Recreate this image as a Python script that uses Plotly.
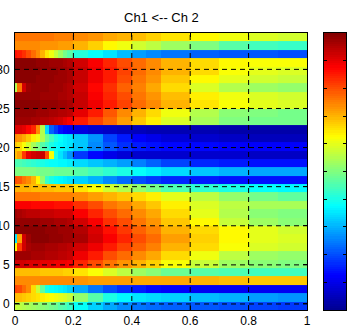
import numpy as np
import plotly.graph_objects as go

# ---- data -------------------------------------------------------------
title_text = "Ch1 <-- Ch 2"

# column boundaries along the normalised axis (first column is a half bin)
x_edges = [0, 0.0078, 0.0234, 0.039, 0.0547, 0.0703, 0.0859, 0.1016, 0.1172,
           0.1328, 0.1484, 0.1641, 0.1797, 0.2, 0.25, 0.3, 0.35, 0.4, 0.45,
           0.5, 0.6, 0.7, 0.8, 0.9, 1.0]

# row centres: first row centre and row spacing (33 rows)
row_y0 = -0.233
row_dy = 1.0733

# values, listed from the top row to the bottom row
rows_top_to_bottom = [
    [0.76,0.76,0.76,0.76,0.76,0.76,0.76,0.76,0.76,0.75,0.75,0.75,0.75,0.74,0.73,0.71,0.70,0.69,0.67,0.65,0.63,0.61,0.59,0.58],
    [0.74,0.74,0.74,0.74,0.74,0.74,0.73,0.73,0.73,0.73,0.72,0.72,0.72,0.70,0.67,0.63,0.61,0.58,0.56,0.53,0.50,0.46,0.44,0.43],
    [0.86,0.85,0.83,0.80,0.77,0.74,0.70,0.65,0.61,0.57,0.53,0.49,0.46,0.41,0.38,0.35,0.31,0.28,0.26,0.24,0.22,0.21,0.21,0.20],
    [0.99,0.99,0.99,0.99,0.99,0.98,0.98,0.98,0.97,0.97,0.97,0.96,0.95,0.92,0.88,0.84,0.80,0.77,0.74,0.70,0.66,0.63,0.62,0.62],
    [0.99,0.99,0.99,0.99,0.99,0.99,0.98,0.98,0.98,0.98,0.97,0.97,0.96,0.93,0.89,0.85,0.81,0.77,0.74,0.70,0.66,0.62,0.60,0.59],
    [0.99,0.99,0.99,0.99,0.99,0.98,0.98,0.98,0.98,0.97,0.97,0.97,0.96,0.93,0.89,0.85,0.80,0.76,0.73,0.68,0.63,0.60,0.58,0.57],
    [0.55,0.76,0.92,0.97,0.98,0.98,0.98,0.98,0.97,0.97,0.97,0.96,0.95,0.92,0.87,0.83,0.78,0.75,0.71,0.66,0.59,0.55,0.53,0.52],
    [0.98,0.98,0.98,0.98,0.98,0.98,0.97,0.97,0.97,0.97,0.96,0.96,0.95,0.93,0.88,0.84,0.80,0.76,0.73,0.69,0.64,0.61,0.59,0.58],
    [0.99,0.99,0.99,0.99,0.99,0.99,0.98,0.98,0.98,0.98,0.97,0.97,0.96,0.93,0.89,0.85,0.81,0.77,0.74,0.70,0.65,0.62,0.60,0.59],
    [0.98,0.98,0.98,0.98,0.98,0.97,0.97,0.97,0.96,0.96,0.95,0.95,0.94,0.90,0.85,0.79,0.74,0.70,0.66,0.61,0.55,0.51,0.50,0.49],
    [0.97,0.97,0.97,0.97,0.96,0.96,0.95,0.95,0.94,0.93,0.92,0.90,0.88,0.85,0.81,0.77,0.72,0.68,0.64,0.59,0.54,0.50,0.49,0.49],
    [0.91,0.91,0.90,0.87,0.84,0.74,0.55,0.34,0.22,0.18,0.14,0.12,0.11,0.09,0.07,0.06,0.05,0.05,0.04,0.04,0.04,0.03,0.03,0.03],
    [0.74,0.73,0.71,0.68,0.64,0.61,0.55,0.48,0.44,0.40,0.38,0.36,0.35,0.32,0.27,0.19,0.15,0.12,0.10,0.08,0.07,0.06,0.05,0.05],
    [0.68,0.66,0.62,0.58,0.54,0.50,0.46,0.43,0.40,0.38,0.37,0.36,0.35,0.32,0.26,0.21,0.17,0.15,0.14,0.13,0.13,0.12,0.12,0.12],
    [0.69,0.72,0.82,0.90,0.92,0.93,0.93,0.80,0.62,0.40,0.35,0.31,0.27,0.18,0.13,0.10,0.08,0.07,0.07,0.07,0.07,0.07,0.06,0.06],
    [0.45,0.45,0.44,0.43,0.42,0.41,0.40,0.39,0.38,0.38,0.37,0.37,0.36,0.34,0.32,0.30,0.28,0.25,0.22,0.19,0.16,0.15,0.14,0.14],
    [0.50,0.50,0.50,0.50,0.50,0.49,0.49,0.49,0.49,0.48,0.48,0.48,0.48,0.46,0.44,0.42,0.40,0.38,0.36,0.34,0.32,0.30,0.29,0.29],
    [0.80,0.79,0.76,0.74,0.70,0.63,0.52,0.43,0.40,0.38,0.37,0.36,0.35,0.33,0.30,0.26,0.23,0.20,0.18,0.16,0.15,0.14,0.14,0.14],
    [0.70,0.70,0.70,0.70,0.69,0.69,0.69,0.69,0.69,0.68,0.68,0.68,0.68,0.65,0.62,0.58,0.55,0.52,0.49,0.45,0.42,0.40,0.38,0.37],
    [0.76,0.76,0.76,0.76,0.76,0.76,0.75,0.75,0.75,0.75,0.75,0.75,0.75,0.74,0.72,0.70,0.68,0.66,0.64,0.60,0.56,0.52,0.49,0.47],
    [0.88,0.88,0.88,0.88,0.87,0.87,0.87,0.87,0.87,0.86,0.86,0.86,0.86,0.83,0.80,0.76,0.74,0.71,0.68,0.64,0.59,0.56,0.54,0.54],
    [0.97,0.96,0.95,0.94,0.94,0.94,0.93,0.93,0.93,0.92,0.92,0.92,0.92,0.88,0.84,0.80,0.77,0.74,0.71,0.66,0.60,0.55,0.51,0.50],
    [0.98,0.98,0.98,0.98,0.98,0.98,0.97,0.97,0.97,0.96,0.96,0.96,0.95,0.92,0.88,0.83,0.80,0.76,0.73,0.68,0.63,0.57,0.53,0.51],
    [0.99,0.99,0.99,0.99,0.99,0.99,0.99,0.98,0.98,0.98,0.97,0.97,0.97,0.95,0.91,0.86,0.82,0.78,0.75,0.70,0.66,0.63,0.60,0.58],
    [0.35,0.72,0.92,0.97,0.99,0.99,0.99,0.99,0.98,0.98,0.98,0.97,0.97,0.96,0.92,0.88,0.84,0.80,0.77,0.72,0.67,0.63,0.60,0.59],
    [0.63,0.82,0.92,0.96,0.97,0.97,0.97,0.96,0.96,0.96,0.95,0.95,0.94,0.92,0.89,0.85,0.81,0.78,0.75,0.70,0.66,0.62,0.59,0.58],
    [0.97,0.97,0.97,0.97,0.96,0.96,0.96,0.95,0.95,0.95,0.94,0.94,0.93,0.89,0.85,0.80,0.77,0.74,0.71,0.66,0.61,0.56,0.53,0.52],
    [0.92,0.92,0.92,0.91,0.91,0.91,0.90,0.90,0.90,0.89,0.89,0.89,0.88,0.84,0.80,0.76,0.73,0.70,0.67,0.62,0.57,0.53,0.51,0.50],
    [0.69,0.69,0.69,0.69,0.69,0.69,0.68,0.68,0.68,0.68,0.68,0.67,0.67,0.65,0.62,0.59,0.56,0.53,0.51,0.48,0.46,0.45,0.44,0.44],
    [0.74,0.74,0.74,0.74,0.74,0.74,0.74,0.74,0.74,0.74,0.74,0.74,0.74,0.73,0.72,0.72,0.72,0.71,0.71,0.71,0.70,0.69,0.68,0.68],
    [0.81,0.80,0.77,0.74,0.66,0.57,0.47,0.40,0.38,0.37,0.36,0.35,0.33,0.29,0.24,0.20,0.17,0.15,0.13,0.12,0.11,0.11,0.11,0.11],
    [0.69,0.69,0.68,0.67,0.66,0.65,0.64,0.63,0.62,0.61,0.60,0.59,0.57,0.52,0.46,0.40,0.37,0.35,0.34,0.33,0.31,0.30,0.28,0.27],
    [0.57,0.56,0.55,0.54,0.53,0.52,0.51,0.50,0.49,0.48,0.46,0.45,0.43,0.38,0.33,0.29,0.26,0.24,0.23,0.22,0.21,0.20,0.19,0.18],
]

x_ticks = [0, 0.2, 0.4, 0.6, 0.8, 1]
x_ticklabels = ["0", "0.2", "0.4", "0.6", "0.8", "1"]
y_ticks = [0, 5, 10, 15, 20, 25, 30]
y_ticklabels = ["0", "5", "10", "15", "20", "25", "30"]
y_range = [-0.77, 34.65]

# ---- styling ----------------------------------------------------------
jet = [[0.0, "rgb(0,0,143)"], [0.125, "rgb(0,0,255)"], [0.375, "rgb(0,255,255)"],
       [0.625, "rgb(255,255,0)"], [0.875, "rgb(255,0,0)"], [1.0, "rgb(128,0,0)"]]

W, H = 347, 329
ml, mr, mt, mb = 15, 1, 33, 19
pw = W - ml - mr
plot_w = 292
main_dom = [0, plot_w / pw]
cb_dom = [(324 - ml) / pw, 1.0]
font = dict(family="Liberation Sans, Arial, Helvetica, sans-serif", size=12, color="black")

z = rows_top_to_bottom[::-1]

fig = go.Figure()
fig.add_trace(go.Heatmap(z=z, x=x_edges, y0=row_y0, dy=row_dy, colorscale=jet,
                         zmin=0, zmax=1, showscale=False, hoverinfo="skip",
                         xaxis="x", yaxis="y"))

# colour bar drawn as its own small heatmap so both sides get ticks
cb_edges = np.linspace(0, 1, 129)
cb_mid = (cb_edges[:-1] + cb_edges[1:]) / 2
fig.add_trace(go.Heatmap(z=[[v] for v in cb_mid], x=[0, 1], y=cb_edges,
                         colorscale=jet, zmin=0, zmax=1, showscale=False,
                         hoverinfo="skip", xaxis="x2", yaxis="y2"))

dash = "5px,4px"
shapes = []
for xv in x_ticks[1:-1]:
    shapes.append(dict(type="line", xref="x", yref="y domain", x0=xv, x1=xv, y0=0, y1=1,
                       line=dict(color="black", width=1, dash=dash), layer="above"))
for yv in y_ticks:
    shapes.append(dict(type="line", xref="x domain", yref="y", x0=0, x1=1, y0=yv, y1=yv,
                       line=dict(color="black", width=1, dash=dash), layer="above"))

fig.update_layout(
    width=W, height=H,
    margin=dict(l=ml, r=mr, t=mt, b=mb, pad=0),
    paper_bgcolor="white", plot_bgcolor="white",
    font=font,
    showlegend=False,
    shapes=shapes,
    xaxis=dict(domain=main_dom, range=[0, 1], tickvals=x_ticks, ticktext=x_ticklabels,
               ticks="inside", ticklen=4, tickcolor="black", mirror="ticks",
               showline=True, linecolor="black", linewidth=1, showgrid=False,
               zeroline=False, layer="above traces", automargin=False,
               tickfont=dict(size=12)),
    yaxis=dict(domain=[0, 1], range=y_range, tickvals=y_ticks, ticktext=y_ticklabels,
               ticks="inside", ticklen=4, tickcolor="black", mirror="ticks",
               showline=True, linecolor="black", linewidth=1, showgrid=False,
               zeroline=False, layer="above traces", automargin=False,
               ticklabelstandoff=2, tickfont=dict(size=12)),
    xaxis2=dict(domain=cb_dom, range=[0, 1], anchor="y2", showticklabels=False,
                ticks="", showline=True, mirror=True, linecolor="black", linewidth=1,
                showgrid=False, zeroline=False, layer="above traces"),
    yaxis2=dict(domain=[0, 1], range=[0, 1], anchor="x2", showticklabels=False,
                tickvals=[round(0.1 * i, 1) for i in range(1, 10)],
                ticks="inside", ticklen=3, tickcolor="black", mirror="ticks",
                showline=True, linecolor="black", linewidth=1,
                showgrid=False, zeroline=False, layer="above traces"),
    annotations=[dict(text=title_text, xref="paper", yref="paper",
                      x=main_dom[1] / 2, y=1 + (mt - 17) / (H - mt - mb),
                      xanchor="center", yanchor="middle", showarrow=False,
                      font=dict(size=13, color="black"))],
)

fig.write_html("out.html",
               config={"displayModeBar": False, "staticPlot": True},
               post_script="document.body.style.margin='0';"
                           "document.body.style.overflow='hidden';")
